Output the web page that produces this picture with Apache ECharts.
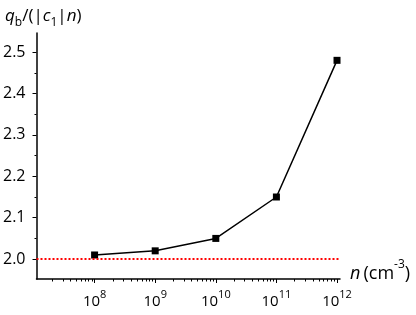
<!DOCTYPE html>
<html>
<head>
<meta charset="utf-8">
<script src="https://cdn.jsdelivr.net/npm/echarts@6/dist/echarts.min.js"></script>
<style>html,body{margin:0;padding:0;background:#fff}#c{width:416px;height:315px}</style>
</head>
<body>
<div id="c"></div>
<script>
const densities = [1e8, 1e9, 1e10, 1e11, 1e12];
const ratios = [2.01, 2.02, 2.05, 2.15, 2.48];
const yMajorTicks = [2.0, 2.1, 2.2, 2.3, 2.4, 2.5];
const yMinorTicks = [2.05, 2.15, 2.25, 2.35, 2.45];
const yTickLabels = ['2.0', '2.1', '2.2', '2.3', '2.4', '2.5'];
const xMajorTicks = [1e8, 1e9, 1e10, 1e11, 1e12];
const xExponents = ['8', '9', '10', '11', '12'];
const referenceLevel = 2.0;

const xMinorTicks = [];
for (let e = 7; e <= 11; e++) for (let m = 2; m <= 9; m++) xMinorTicks.push(m * Math.pow(10, e));

const FONT = 'Open Sans';
const X_MIN = 1.1e7, X_MAX = 1.12e12, Y_MIN = 1.952, Y_MAX = 2.546;

const chart = echarts.init(document.getElementById('c'));
chart.setOption({
  animation: false,
  backgroundColor: '#fff',
  textStyle: { fontFamily: FONT },
  grid: { left: 35, right: 76, top: 33, bottom: 36, containLabel: false },
  title: {
    left: 5, top: 3, padding: 0,
    text: '{i|q}{sub|b}{n|/(|}{i|c}{sub|1}{n||}{i|n}{n|)}',
    textStyle: {
      fontWeight: 'normal',
      rich: {
        i: { fontFamily: FONT, fontStyle: 'italic', fontWeight: 'normal', fontSize: 17, color: '#000', lineHeight: 26, verticalAlign: 'middle' },
        n: { fontFamily: FONT, fontWeight: 'normal', fontSize: 17, color: '#000', lineHeight: 26, verticalAlign: 'middle' },
        sub: { fontFamily: FONT, fontWeight: 'normal', fontSize: 12, color: '#000', lineHeight: 12, verticalAlign: 'bottom' }
      }
    }
  },
  xAxis: [
    {
      type: 'log', min: X_MIN, max: X_MAX,
      name: '{i|n} {n|(cm}{sup|-3}{n|)}',
      nameLocation: 'end', nameGap: 10,
      nameTextStyle: {
        verticalAlign: 'bottom', padding: [0, 0, -4, 0],
        rich: {
          i: { fontFamily: FONT, fontStyle: 'italic', fontSize: 18, color: '#000', lineHeight: 24, verticalAlign: 'bottom' },
          n: { fontFamily: FONT, fontSize: 18, color: '#000', lineHeight: 24, verticalAlign: 'bottom' },
          sup: { fontFamily: FONT, fontSize: 12, color: '#000', lineHeight: 24, verticalAlign: 'top', padding: [0, 0, 10, 0] }
        }
      },
      axisLine: { show: true, lineStyle: { color: '#000', width: 1.5 } },
      axisTick: { show: true, inside: false, length: 4, customValues: xMajorTicks, lineStyle: { color: '#000', width: 1 } },
      axisLabel: {
        customValues: xMajorTicks, margin: 10,
        formatter: function (v) {
          const idx = xMajorTicks.findIndex(t => Math.abs(Math.log10(t) - Math.log10(v)) < 1e-6);
          return idx >= 0 ? '{b|10}{s|' + xExponents[idx] + '}' : '';
        },
        rich: {
          b: { fontFamily: FONT, fontSize: 15, color: '#000', lineHeight: 20, verticalAlign: 'bottom' },
          s: { fontFamily: FONT, fontSize: 11, color: '#000', lineHeight: 20, verticalAlign: 'top', padding: [0, 0, 7, 0] }
        }
      },
      splitLine: { show: false }, minorTick: { show: false }, minorSplitLine: { show: false }
    },
    {
      type: 'log', min: X_MIN, max: X_MAX, position: 'bottom', gridIndex: 0,
      axisLine: { show: false },
      axisTick: { show: true, inside: false, length: 2.5, customValues: xMinorTicks, lineStyle: { color: '#000', width: 1 } },
      axisLabel: { show: false },
      splitLine: { show: false }
    }
  ],
  yAxis: [
    {
      type: 'value', min: Y_MIN, max: Y_MAX,
      axisLine: { show: true, lineStyle: { color: '#000', width: 1.5 } },
      axisTick: { show: true, inside: false, length: 4, customValues: yMajorTicks, lineStyle: { color: '#000', width: 1 } },
      axisLabel: {
        customValues: yMajorTicks, margin: 11,
        fontFamily: FONT, fontSize: 16, color: '#000',
        formatter: function (v) {
          const idx = yMajorTicks.findIndex(t => Math.abs(t - v) < 1e-6);
          return idx >= 0 ? yTickLabels[idx] : '';
        }
      },
      splitLine: { show: false }
    },
    {
      type: 'value', min: Y_MIN, max: Y_MAX, position: 'left',
      axisLine: { show: false },
      axisTick: { show: true, inside: false, length: 2, customValues: yMinorTicks, lineStyle: { color: '#000', width: 1 } },
      axisLabel: { show: false },
      splitLine: { show: false }
    }
  ],
  series: [
    {
      type: 'line',
      xAxisIndex: 0, yAxisIndex: 0,
      data: densities.map((d, i) => [d, ratios[i]]),
      symbol: 'rect', symbolSize: 7,
      itemStyle: { color: '#000' },
      lineStyle: { color: '#000', width: 1.5 },
      markLine: {
        silent: true, symbol: ['none', 'none'], label: { show: false },
        lineStyle: { color: '#ff0000', type: [2, 2], width: 2 },
        data: [{ yAxis: referenceLevel }]
      }
    }
  ]
});
</script>
</body>
</html>
